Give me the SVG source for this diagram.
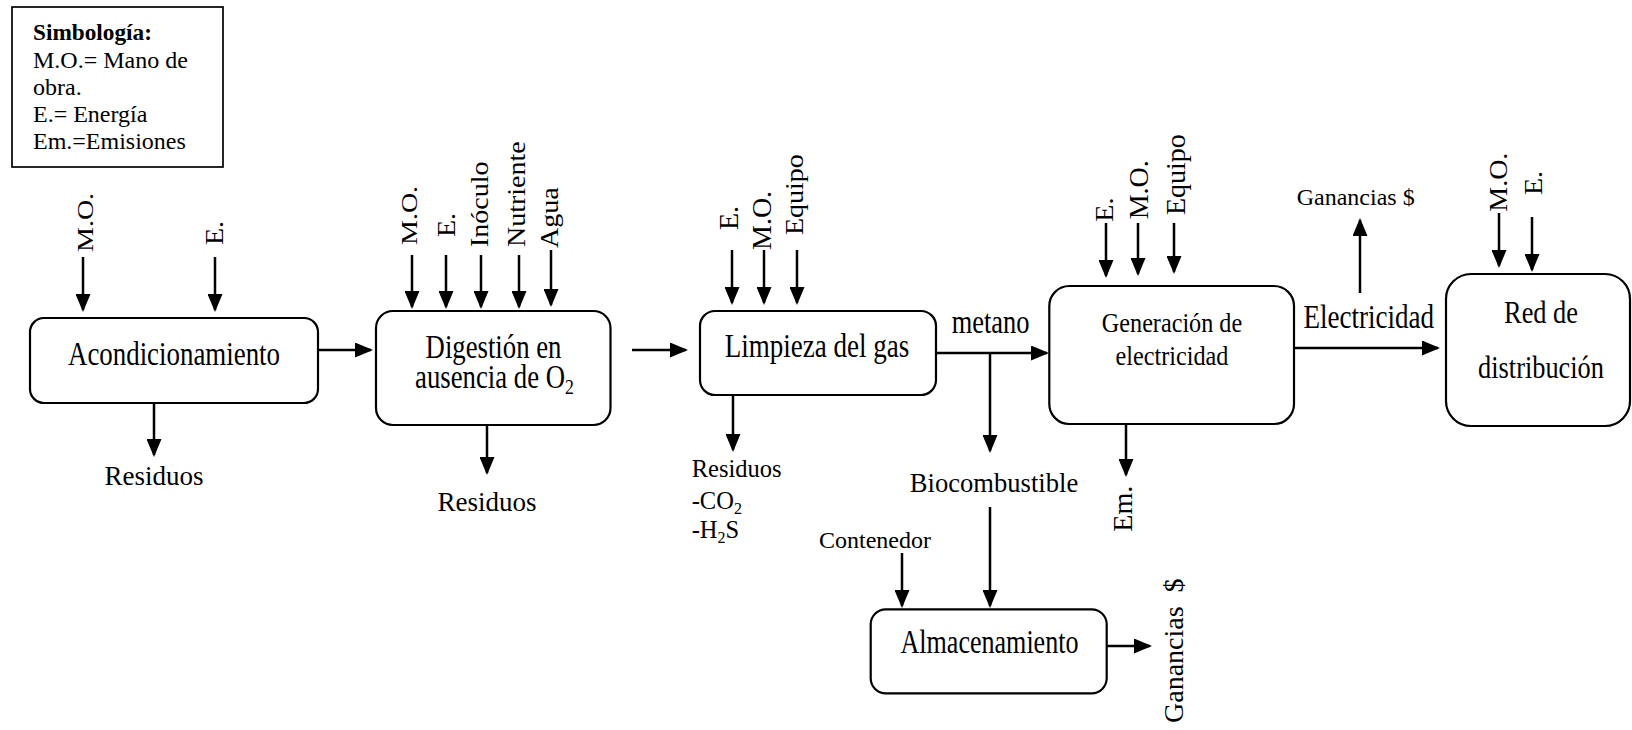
<svg xmlns="http://www.w3.org/2000/svg" width="1632" height="730" viewBox="0 0 1632 730">
  <style>
    text { font-family: "Liberation Serif", "Times New Roman", serif; fill: #000; }
    .box { fill: #fff; stroke: #000; stroke-width: 2.2; }
    .legend { fill: #fff; stroke: #000; stroke-width: 1.7; }
    .flow { fill: none; stroke: #000; stroke-width: 2.5; marker-end: url(#head); }
    .lg { font-size: 24px; }
    .big { font-size: 33px; text-anchor: middle; }
    .mid { font-size: 27.5px; }
    .sm { font-size: 24.5px; }
    .rot { font-size: 28px; }
  </style>
  <defs>
    <marker id="head" markerUnits="userSpaceOnUse" markerWidth="18" markerHeight="15" refX="16" refY="7.5" orient="auto">
      <path d="M0,0 L18,7.5 L0,15 z" fill="#000"/>
    </marker>
  </defs>

  <!-- legend -->
  <g id="legend">
    <rect class="legend" x="12" y="7" width="211" height="160"/>
    <text class="lg" x="33" y="40" font-weight="bold" transform="translate(33,0) scale(0.97,1) translate(-33,0)">Simbología:</text>
    <text class="lg" x="33" y="67.5">M.O.= Mano de</text>
    <text class="lg" x="33" y="94.5">obra.</text>
    <text class="lg" x="33" y="121.5">E.= Energía</text>
    <text class="lg" x="33" y="149">Em.=Emisiones</text>
  </g>

  <!-- process nodes -->
  <g id="acondicionamiento">
    <rect class="box" x="30" y="318" width="288" height="85" rx="14"/>
    <text class="big" transform="translate(174,365) scale(0.815,1)">Acondicionamiento</text>
  </g>
  <g id="digestion">
    <rect class="box" x="376" y="311" width="234.5" height="114" rx="17"/>
    <text class="big" transform="translate(493.5,358.3) scale(0.81,1)">Digestión en</text>
    <text class="big" transform="translate(494.5,388.3) scale(0.81,1)">ausencia de O<tspan font-size="22" dy="6">2</tspan></text>
  </g>
  <g id="limpieza">
    <rect class="box" x="700" y="311" width="236" height="84" rx="15"/>
    <text class="big" transform="translate(817,356.7) scale(0.82,1)">Limpieza del gas</text>
  </g>
  <g id="generacion">
    <rect class="box" x="1049.3" y="286" width="244.7" height="138" rx="20"/>
    <text class="mid" text-anchor="middle" transform="translate(1172,331.7) scale(0.88,1)">Generación de</text>
    <text class="mid" text-anchor="middle" transform="translate(1172,365) scale(0.88,1)">electricidad</text>
  </g>
  <g id="red">
    <rect class="box" x="1446" y="274" width="184" height="152" rx="25"/>
    <text font-size="31" text-anchor="middle" transform="translate(1541,323.3) scale(0.85,1)">Red de</text>
    <text font-size="31" text-anchor="middle" transform="translate(1541,378.3) scale(0.85,1)">distribución</text>
  </g>
  <g id="almacenamiento">
    <rect class="box" x="870.7" y="609.3" width="236" height="84" rx="15"/>
    <text class="big" transform="translate(989.5,653.3) scale(0.79,1)">Almacenamiento</text>
  </g>

  <!-- connectors -->
  <g id="connectors">
    <path class="flow" d="M83,257 V310"/>
    <path class="flow" d="M215,257 V310"/>
    <path class="flow" d="M154,403 V455"/>
    <path class="flow" d="M318,350 H371"/>

    <path class="flow" d="M412,255 V307"/>
    <path class="flow" d="M446,255 V307"/>
    <path class="flow" d="M481,255 V307"/>
    <path class="flow" d="M519,255 V307"/>
    <path class="flow" d="M551,250 V305"/>
    <path class="flow" d="M487,425 V473"/>
    <path class="flow" d="M632,350 H686"/>

    <path class="flow" d="M732,250 V303"/>
    <path class="flow" d="M764,250 V303"/>
    <path class="flow" d="M797,250 V303"/>
    <path class="flow" d="M733,395 V450"/>
    <path class="flow" d="M936,353 H1047"/>
    <path class="flow" d="M990,353 V451"/>

    <path class="flow" d="M990,507 V606"/>
    <path class="flow" d="M902,553 V606"/>
    <path class="flow" d="M1107,646 H1150"/>

    <path class="flow" d="M1106,223 V276"/>
    <path class="flow" d="M1138,223 V274"/>
    <path class="flow" d="M1174,223 V272"/>
    <path class="flow" d="M1126,424 V475"/>
    <path class="flow" d="M1294,348 H1438"/>
    <path class="flow" d="M1360,293 V220"/>

    <path class="flow" d="M1499,213 V266"/>
    <path class="flow" d="M1532,217 V270"/>
  </g>

  <!-- stream labels -->
  <g id="labels">
    <text class="rot" transform="translate(93,252) rotate(-90) scale(1,0.85)">M.O.</text>
    <text class="rot" transform="translate(223,245) rotate(-90) scale(1,0.88)">E.</text>
    <text font-size="27" text-anchor="middle" x="154" y="485">Residuos</text>

    <text class="rot" transform="translate(417,245) rotate(-90) scale(1,0.85)">M.O.</text>
    <text class="rot" transform="translate(455,237) rotate(-90) scale(1,0.9)">E.</text>
    <text class="rot" transform="translate(488,247) rotate(-90) scale(1,0.9)">Inóculo</text>
    <text class="rot" transform="translate(525,247) rotate(-90) scale(1,0.9)">Nutriente</text>
    <text class="rot" transform="translate(558,248) rotate(-90) scale(1,0.9)">Agua</text>
    <text font-size="27" text-anchor="middle" x="487" y="511">Residuos</text>

    <text class="rot" transform="translate(738,230) rotate(-90) scale(1,0.95)">E.</text>
    <text class="rot" transform="translate(771,250) rotate(-90) scale(1,0.97)">M.O.</text>
    <text class="rot" transform="translate(803,235) rotate(-90) scale(1,0.9)">Equipo</text>
    <text class="sm" x="691.7" y="477">Residuos</text>
    <text class="sm" x="691.7" y="509">-CO<tspan font-size="16" dy="5">2</tspan></text>
    <text class="sm" x="691.7" y="538">-H<tspan font-size="16" dy="5">2</tspan><tspan dy="-5">S</tspan></text>
    <text font-size="33" transform="translate(951.7,333.3) scale(0.8,1)">metano</text>

    <text font-size="28" text-anchor="middle" transform="translate(994,491.7) scale(0.95,1)">Biocombustible</text>
    <text font-size="24" x="819" y="548.3">Contenedor</text>
    <text class="rot" transform="translate(1183,723) rotate(-90)">Ganancias<tspan dx="14">$</tspan></text>

    <text class="rot" transform="translate(1113,221.7) rotate(-90) scale(1,0.9)">E.</text>
    <text class="rot" transform="translate(1148,219.3) rotate(-90) scale(1,0.97)">M.O.</text>
    <text class="rot" transform="translate(1185,215) rotate(-90) scale(1,0.95)">Equipo</text>
    <text class="rot" transform="translate(1131.7,531.7) rotate(-90)">Em.</text>

    <text font-size="33" text-anchor="middle" transform="translate(1368.7,328.3) scale(0.82,1)">Electricidad</text>
    <text font-size="24" x="1296.7" y="205">Ganancias<tspan dx="6">$</tspan></text>

    <text class="rot" transform="translate(1506.7,211.7) rotate(-90) scale(1,0.93)">M.O.</text>
    <text class="rot" transform="translate(1541.7,195) rotate(-90) scale(1,0.9)">E.</text>
  </g>
</svg>
